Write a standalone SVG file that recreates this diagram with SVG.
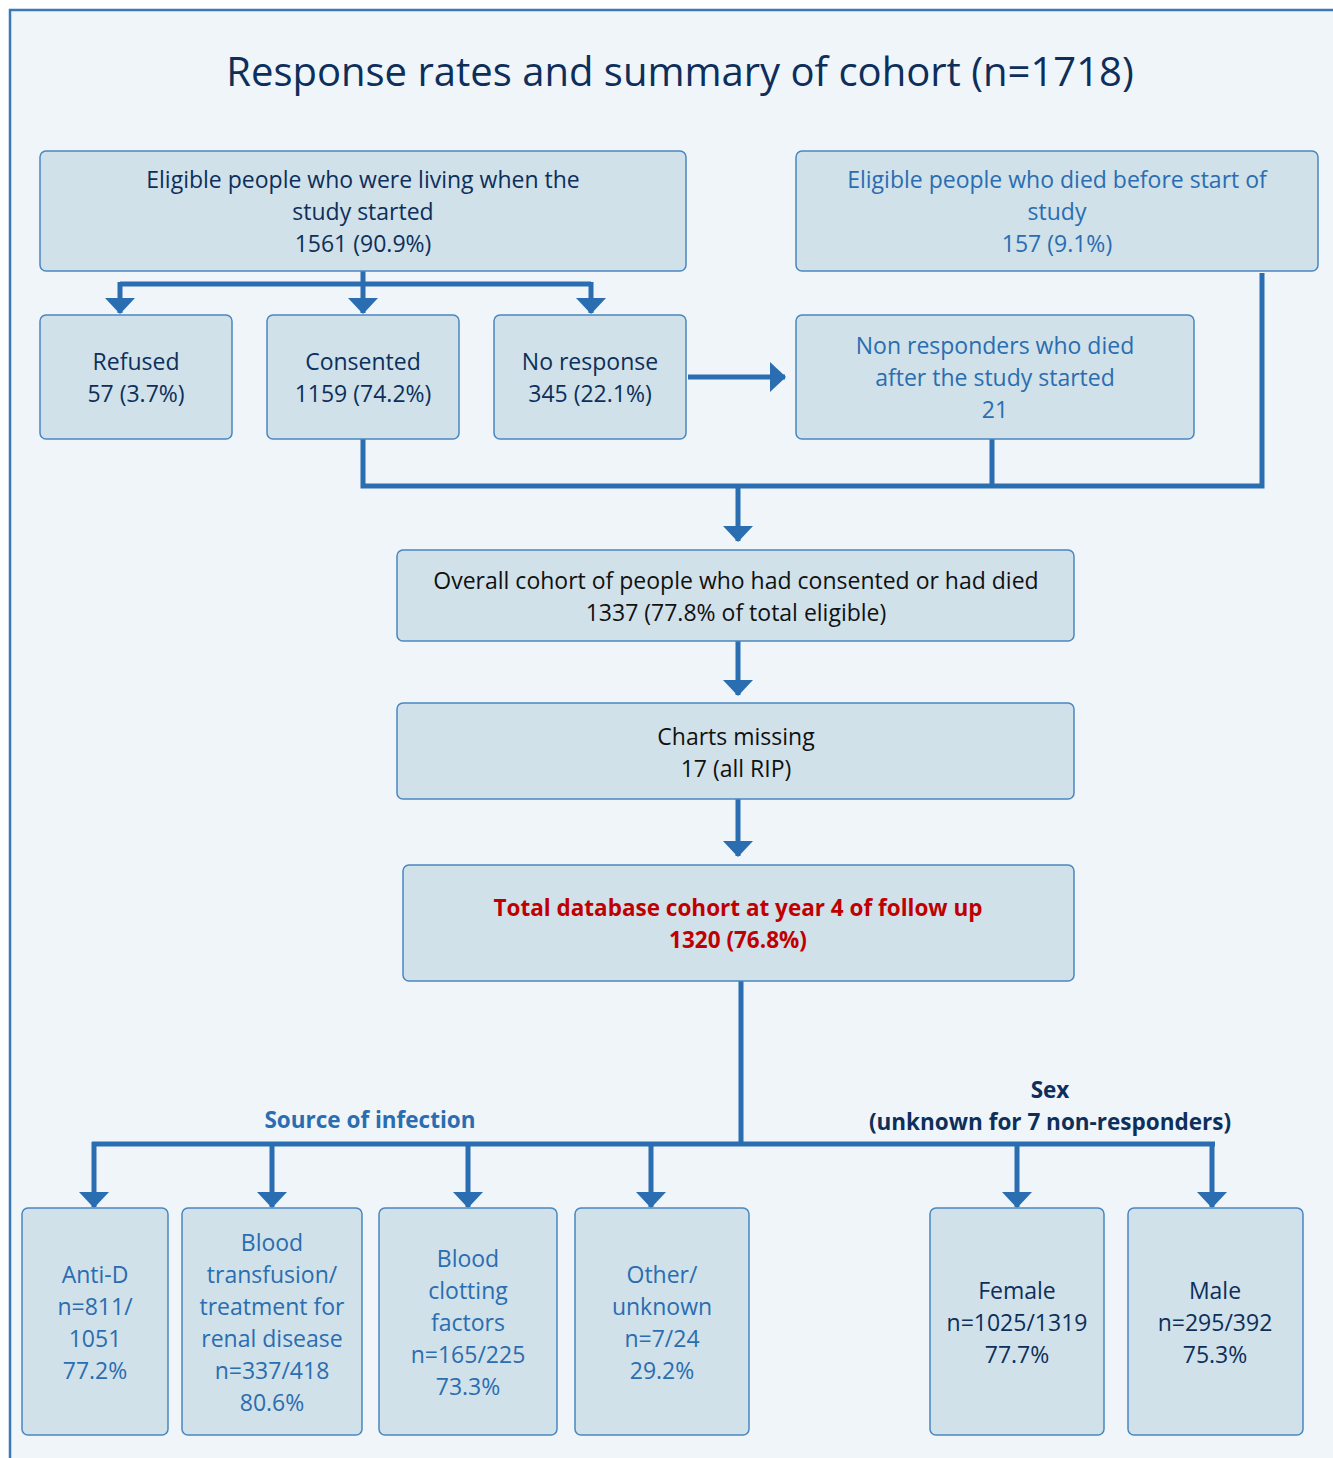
<svg xmlns="http://www.w3.org/2000/svg" width="1333" height="1458" viewBox="0 0 1333 1458">
<defs>
<style>
.node{fill:#d0e1ea;stroke:#4a86c0;stroke-width:1.5}
text{font-family:"Open Sans",Lato,"Liberation Sans",sans-serif;font-size:23px;text-anchor:middle;dominant-baseline:central}
.navy{fill:#0d2f5a}
.blue{fill:#2a6db0}
.dark{fill:#111}
.red{fill:#c00000;font-weight:bold;font-size:22.5px}
.b{font-weight:bold;font-size:22.5px}
.conn{fill:none;stroke:#2a6db0;stroke-width:5}
</style>
<marker id="ah" viewBox="0 0 16 30" refX="15" refY="15" markerWidth="16" markerHeight="30" markerUnits="userSpaceOnUse" orient="auto">
<path d="M0,0 L16,15 L0,30 Z" fill="#2a6db0"/>
</marker>
</defs>
<rect x="0" y="0" width="1333" height="1458" fill="#ffffff"/>
<rect x="10" y="10" width="1340" height="1470" fill="#f0f5fa" stroke="#3a78b8" stroke-width="2.5"/>
<text x="680" y="70" class="navy" style="font-size:40px">Response rates and summary of cohort (n=1718)</text>

<g id="connectors">
<path class="conn" d="M363,271 V284 M120,284 H591"/>
<path class="conn" marker-end="url(#ah)" d="M120,282 V313"/>
<path class="conn" marker-end="url(#ah)" d="M363,282 V313"/>
<path class="conn" marker-end="url(#ah)" d="M591,282 V313"/>
<path class="conn" marker-end="url(#ah)" d="M688,377 H785"/>
<path class="conn" d="M363,439 V486 H1262 V273 M992,439 V486"/>
<path class="conn" marker-end="url(#ah)" d="M738,486 V541"/>
<path class="conn" marker-end="url(#ah)" d="M738,641 V695"/>
<path class="conn" marker-end="url(#ah)" d="M738,799 V856"/>
<path class="conn" d="M741,981 V1144 M92,1144 H1215"/>
<path class="conn" marker-end="url(#ah)" d="M94,1142 V1207"/>
<path class="conn" marker-end="url(#ah)" d="M272,1142 V1207"/>
<path class="conn" marker-end="url(#ah)" d="M468,1142 V1207"/>
<path class="conn" marker-end="url(#ah)" d="M651,1142 V1207"/>
<path class="conn" marker-end="url(#ah)" d="M1017,1142 V1207"/>
<path class="conn" marker-end="url(#ah)" d="M1212,1142 V1207"/>
</g>

<g id="living">
<rect class="node" x="40" y="151" width="646" height="120" rx="6"/>
<text class="navy" x="363" y="179">Eligible people who were living when the</text>
<text class="navy" x="363" y="211">study started</text>
<text class="navy" x="363" y="243">1561 (90.9%)</text>
</g>
<g id="died">
<rect class="node" x="796" y="151" width="522" height="120" rx="6"/>
<text class="blue" x="1057" y="179">Eligible people who died before start of</text>
<text class="blue" x="1057" y="211">study</text>
<text class="blue" x="1057" y="243">157 (9.1%)</text>
</g>
<g id="refused">
<rect class="node" x="40" y="315" width="192" height="124" rx="6"/>
<text class="navy" x="136" y="361">Refused</text>
<text class="navy" x="136" y="393">57 (3.7%)</text>
</g>
<g id="consented">
<rect class="node" x="267" y="315" width="192" height="124" rx="6"/>
<text class="navy" x="363" y="361">Consented</text>
<text class="navy" x="363" y="393">1159 (74.2%)</text>
</g>
<g id="noresponse">
<rect class="node" x="494" y="315" width="192" height="124" rx="6"/>
<text class="navy" x="590" y="361">No response</text>
<text class="navy" x="590" y="393">345 (22.1%)</text>
</g>
<g id="nonresp">
<rect class="node" x="796" y="315" width="398" height="124" rx="6"/>
<text class="blue" x="995" y="345">Non responders who died</text>
<text class="blue" x="995" y="377">after the study started</text>
<text class="blue" x="995" y="409">21</text>
</g>
<g id="overall">
<rect class="node" x="397" y="550" width="677" height="91" rx="6"/>
<text class="dark" x="736" y="580">Overall cohort of people who had consented or had died</text>
<text class="dark" x="736" y="612">1337 (77.8% of total eligible)</text>
</g>
<g id="charts">
<rect class="node" x="397" y="703" width="677" height="96" rx="6"/>
<text class="dark" x="736" y="736">Charts missing</text>
<text class="dark" x="736" y="768">17 (all RIP)</text>
</g>
<g id="total">
<rect class="node" x="403" y="865" width="671" height="116" rx="6"/>
<text class="red" x="738" y="907">Total database cohort at year 4 of follow up</text>
<text class="red" x="738" y="939">1320 (76.8%)</text>
</g>

<text class="blue b" x="370" y="1119">Source of infection</text>
<text class="navy b" x="1050" y="1089">Sex</text>
<text class="navy b" x="1050" y="1121">(unknown for 7 non-responders)</text>

<g id="antid">
<rect class="node" x="22" y="1208" width="146" height="227" rx="6"/>
<text class="blue" x="95" y="1274">Anti-D</text>
<text class="blue" x="95" y="1306">n=811/</text>
<text class="blue" x="95" y="1338">1051</text>
<text class="blue" x="95" y="1370">77.2%</text>
</g>
<g id="transfusion">
<rect class="node" x="182" y="1208" width="180" height="227" rx="6"/>
<text class="blue" x="272" y="1242">Blood</text>
<text class="blue" x="272" y="1274">transfusion/</text>
<text class="blue" x="272" y="1306">treatment for</text>
<text class="blue" x="272" y="1338">renal disease</text>
<text class="blue" x="272" y="1370">n=337/418</text>
<text class="blue" x="272" y="1402">80.6%</text>
</g>
<g id="clotting">
<rect class="node" x="379" y="1208" width="178" height="227" rx="6"/>
<text class="blue" x="468" y="1258">Blood</text>
<text class="blue" x="468" y="1290">clotting</text>
<text class="blue" x="468" y="1322">factors</text>
<text class="blue" x="468" y="1354">n=165/225</text>
<text class="blue" x="468" y="1386">73.3%</text>
</g>
<g id="other">
<rect class="node" x="575" y="1208" width="174" height="227" rx="6"/>
<text class="blue" x="662" y="1274">Other/</text>
<text class="blue" x="662" y="1306">unknown</text>
<text class="blue" x="662" y="1338">n=7/24</text>
<text class="blue" x="662" y="1370">29.2%</text>
</g>
<g id="female">
<rect class="node" x="930" y="1208" width="174" height="227" rx="6"/>
<text class="navy" x="1017" y="1290">Female</text>
<text class="navy" x="1017" y="1322">n=1025/1319</text>
<text class="navy" x="1017" y="1354">77.7%</text>
</g>
<g id="male">
<rect class="node" x="1128" y="1208" width="175" height="227" rx="6"/>
<text class="navy" x="1215" y="1290">Male</text>
<text class="navy" x="1215" y="1322">n=295/392</text>
<text class="navy" x="1215" y="1354">75.3%</text>
</g>
</svg>
